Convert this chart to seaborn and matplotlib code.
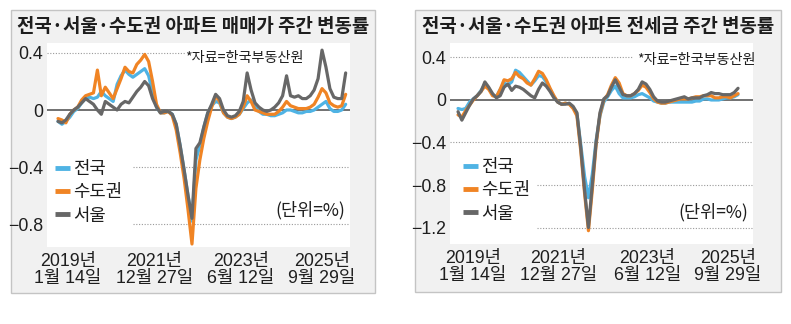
import numpy as np
import pandas as pd
import matplotlib
matplotlib.use("Agg")
import matplotlib.pyplot as plt
from matplotlib.patches import Rectangle
from matplotlib import font_manager
import seaborn as sns

# ---- data: weekly change rate (%) of apartment prices ----
series_names = ["전국", "수도권", "서울"]

sale_national = [-0.08, -0.10, -0.08, -0.05, -0.01, 0.01, 0.05, 0.08, 0.09, 0.08,
                 0.09, 0.13, 0.10, 0.08, 0.06, 0.18, 0.24, 0.28, 0.25, 0.23,
                 0.25, 0.27, 0.29, 0.24, 0.12, 0.02, -0.02, -0.02, -0.01, -0.03,
                 -0.10, -0.25, -0.42, -0.60, -0.78, -0.35, -0.25, -0.12, -0.02, 0.03,
                 0.06, 0.05, -0.02, -0.05, -0.06, -0.05, -0.03, 0.01, 0.05, 0.07,
                 0.02, -0.01, -0.03, -0.03, -0.04, -0.04, -0.03, -0.02, 0.00, 0.00,
                 -0.01, -0.02, -0.02, -0.01, -0.01, 0.00, 0.02, 0.04, 0.06, 0.01,
                 -0.01, -0.01, 0.00, 0.04]
sale_capital = [-0.06, -0.07, -0.09, -0.03, 0.00, 0.02, 0.07, 0.10, 0.11, 0.12,
                0.28, 0.10, 0.16, 0.12, 0.08, 0.15, 0.22, 0.30, 0.27, 0.26,
                0.32, 0.35, 0.39, 0.34, 0.20, 0.04, -0.02, -0.02, -0.01, -0.04,
                -0.14, -0.30, -0.48, -0.70, -0.94, -0.55, -0.35, -0.20, -0.08, 0.02,
                0.10, 0.06, -0.02, -0.05, -0.06, -0.05, -0.03, 0.02, 0.10, 0.06,
                0.00, -0.01, -0.02, -0.03, -0.03, -0.03, -0.01, 0.02, 0.06, 0.03,
                0.02, 0.01, 0.01, 0.01, 0.02, 0.04, 0.09, 0.15, 0.12, 0.05,
                0.03, 0.02, 0.03, 0.11]
sale_seoul = [-0.08, -0.09, -0.07, -0.03, 0.00, 0.02, 0.05, 0.08, 0.06, 0.04,
              0.00, -0.03, 0.06, 0.04, 0.02, 0.00, 0.04, 0.06, 0.05, 0.09,
              0.13, 0.16, 0.20, 0.17, 0.08, 0.02, -0.02, -0.01, -0.01, -0.03,
              -0.10, -0.25, -0.42, -0.60, -0.76, -0.27, -0.23, -0.12, -0.02, 0.04,
              0.11, 0.08, 0.00, -0.04, -0.05, -0.04, -0.01, 0.06, 0.26, 0.14,
              0.05, 0.02, 0.00, -0.01, 0.00, 0.02, 0.05, 0.10, 0.24, 0.10,
              0.09, 0.10, 0.08, 0.08, 0.10, 0.14, 0.22, 0.42, 0.30, 0.15,
              0.09, 0.08, 0.08, 0.26]

rent_national = [-0.08, -0.09, -0.08, -0.02, 0.01, 0.04, 0.09, 0.15, 0.11, 0.05,
                 0.03, 0.10, 0.16, 0.14, 0.17, 0.28, 0.26, 0.22, 0.18, 0.14,
                 0.18, 0.23, 0.22, 0.17, 0.10, 0.03, -0.02, -0.04, -0.03, -0.04,
                 -0.07, -0.13, -0.42, -0.72, -0.92, -0.70, -0.38, -0.15, -0.02, 0.03,
                 0.09, 0.13, 0.06, 0.02, 0.02, 0.02, 0.03, 0.05, 0.06, 0.04,
                 0.02, -0.01, -0.02, -0.03, -0.03, -0.02, -0.02, -0.02, -0.02, -0.02,
                 -0.02, -0.02, -0.01, -0.01, 0.01, 0.01, 0.00, 0.00, 0.00, 0.01,
                 0.02, 0.02, 0.03, 0.05]
rent_capital = [-0.14, -0.16, -0.10, -0.05, 0.00, 0.04, 0.08, 0.13, 0.10, 0.04,
                0.03, 0.10, 0.19, 0.18, 0.20, 0.26, 0.22, 0.20, 0.16, 0.14,
                0.20, 0.27, 0.25, 0.19, 0.11, 0.04, -0.02, -0.04, -0.03, -0.04,
                -0.08, -0.15, -0.48, -0.88, -1.23, -0.85, -0.42, -0.14, 0.00, 0.05,
                0.14, 0.21, 0.16, 0.06, 0.04, 0.04, 0.06, 0.09, 0.14, 0.12,
                0.07, 0.01, -0.02, -0.03, -0.03, -0.02, -0.01, 0.00, 0.01, 0.01,
                0.01, 0.02, 0.03, 0.03, 0.04, 0.04, 0.04, 0.02, 0.02, 0.03,
                0.03, 0.02, 0.04, 0.06]
rent_seoul = [-0.11, -0.19, -0.12, -0.05, 0.01, 0.04, 0.08, 0.17, 0.12, 0.06,
              0.02, 0.04, 0.12, 0.15, 0.09, 0.13, 0.12, 0.10, 0.07, 0.04,
              0.02, 0.10, 0.16, 0.13, 0.08, 0.02, -0.02, -0.04, -0.04, -0.03,
              -0.06, -0.12, -0.45, -0.85, -1.20, -0.80, -0.40, -0.12, 0.01, 0.04,
              0.12, 0.19, 0.12, 0.05, 0.04, 0.04, 0.06, 0.10, 0.17, 0.15,
              0.10, 0.03, -0.01, -0.02, -0.02, -0.01, 0.00, 0.01, 0.02, 0.03,
              0.01, 0.02, 0.02, 0.02, 0.04, 0.05, 0.07, 0.06, 0.06, 0.05,
              0.05, 0.05, 0.07, 0.11]

date_labels = ["2019년\n1월 14일", "2021년\n12월 27일", "2023년\n6월 12일", "2025년\n9월 29일"]
titles = ["전국·서울·수도권 아파트 매매가 주간 변동률",
          "전국·서울·수도권 아파트 전세금 주간 변동률"]
source_note = "*자료=한국부동산원"
unit_note = "(단위=%)"
sale_yticks = [0.4, 0, -0.4, -0.8]
rent_yticks = [0.4, 0, -0.4, -0.8, -1.2]

# ---- styling ----
sns.set_style("white")
names = {f.name for f in font_manager.fontManager.ttflist}
latin = "Liberation Sans Narrow" if "Liberation Sans Narrow" in names else "Liberation Sans"
FAM = [latin, "Noto Sans CJK KR", "DejaVu Sans"]
KFAM = ["Noto Sans CJK KR", "DejaVu Sans"]
plt.rcParams["font.family"] = FAM
plt.rcParams["axes.unicode_minus"] = True

palette = {"전국": "#4fb3e4", "수도권": "#f08424", "서울": "#676767"}
TXT = "#1e1e1e"

W, H = 791, 324
fig = plt.figure(figsize=(W / 100, H / 100), dpi=100)
fig.patch.set_facecolor("white")


def fx(x):
    return x / W


def fy(y):
    return 1 - y / H


def long_frame(a, b, c):
    n = len(a)
    return pd.DataFrame({
        "week": np.tile(np.arange(n), 3),
        "rate": np.concatenate([a, b, c]),
        "region": np.repeat(series_names, n),
    })


panels = [
    dict(df=long_frame(sale_national, sale_capital, sale_seoul), title=titles[0],
         box=(11, 10, 375, 293), area=(47, 43, 350, 247),
         xlim=(-2.79, 74.1), ylim=(-0.961, 0.470), yticks=sale_yticks,
         xticks=[2.5, 24.4, 46.4, 67.0],
         grid={0.4: (0, 0.455), -0.4: (0.284, 1), -0.8: (0.284, 1)},
         src=(185, 58), unit=(345, 210), leg=(55, 160)),
    dict(df=long_frame(rent_national, rent_capital, rent_seoul), title=titles[1],
         box=(415, 10, 781, 292), area=(450, 43, 753, 244),
         xlim=(-2.09, 76.9), ylim=(-1.355, 0.536), yticks=rent_yticks,
         xticks=[3.9, 26.1, 49.3, 70.4],
         grid={0.4: (0, 0.604), -0.4: (0, 1), -0.8: (0.287, 1), -1.2: (0.287, 1)},
         src=(637, 60), unit=(748, 212), leg=(463, 158)),
]

for p in panels:
    x0, y0, x1, y1 = p["box"]
    fig.patches.append(Rectangle((fx(x0), fy(y1)), fx(x1) - fx(x0), fy(y0) - fy(y1),
                                 transform=fig.transFigure, facecolor="#f1f1f1",
                                 edgecolor="#c4c4c4", linewidth=1.0, zorder=-10))
    fig.text(fx((x0 + x1) / 2), fy(27), p["title"], ha="center", va="center",
             fontsize=13.6, fontweight="bold", color=TXT, family=KFAM)

    ax0, ay0, ax1, ay1 = p["area"]
    ax = fig.add_axes([fx(ax0), fy(ay1), fx(ax1) - fx(ax0), fy(ay0) - fy(ay1)])
    ax.set_zorder(1)
    ax.set_facecolor("white")
    for s in ax.spines.values():
        s.set_visible(False)

    sns.lineplot(data=p["df"], x="week", y="rate", hue="region",
                 hue_order=series_names, palette=palette, linewidth=2.3,
                 ax=ax, zorder=3)

    ax.axhline(0, color="#4a4a4a", linewidth=1.1, zorder=2)
    for yv, (a, b) in p["grid"].items():
        ax.axhline(yv, xmin=a, xmax=b, color="#9a9a9a", linewidth=0.8,
                   linestyle=(0, (1, 1.5)), zorder=1)

    ax.set_xlim(*p["xlim"])
    ax.set_ylim(*p["ylim"])
    ax.set_yticks(p["yticks"])
    ax.set_yticklabels([("0" if v == 0 else f"{v:.1f}".replace("-", "\u2212"))
                        for v in p["yticks"]])
    ax.set_xticks(p["xticks"])
    ax.set_xticklabels(date_labels, linespacing=1.0)
    ax.tick_params(axis="both", length=0, labelsize=12.8, colors=TXT)
    ax.tick_params(axis="y", pad=3)
    ax.tick_params(axis="x", pad=4.5)
    ax.set_xlabel("")
    ax.set_ylabel("")

    handles, labels = ax.get_legend_handles_labels()
    leg = ax.legend(handles, labels, loc="upper left",
                    bbox_to_anchor=(fx(p["leg"][0]), fy(p["leg"][1])),
                    bbox_transform=fig.transFigure, frameon=False,
                    fontsize=12.8, handlelength=0.85, handletextpad=0.15,
                    labelspacing=0.3, borderpad=0, borderaxespad=0)
    for ln in leg.get_lines():
        ln.set_linewidth(3.5)
        ln.set_solid_capstyle("butt")
    for t in leg.get_texts():
        t.set_color(TXT)
        t.set_family(KFAM)

    fig.text(fx(p["src"][0]), fy(p["src"][1]), source_note, ha="left", va="center",
             fontsize=10.2, color=TXT, family=KFAM, zorder=5)
    fig.text(fx(p["unit"][0]), fy(p["unit"][1]), unit_note, ha="right", va="center",
             fontsize=12.6, color=TXT, family=KFAM, zorder=5)

fig.savefig("out.png", dpi=100, facecolor="white")
